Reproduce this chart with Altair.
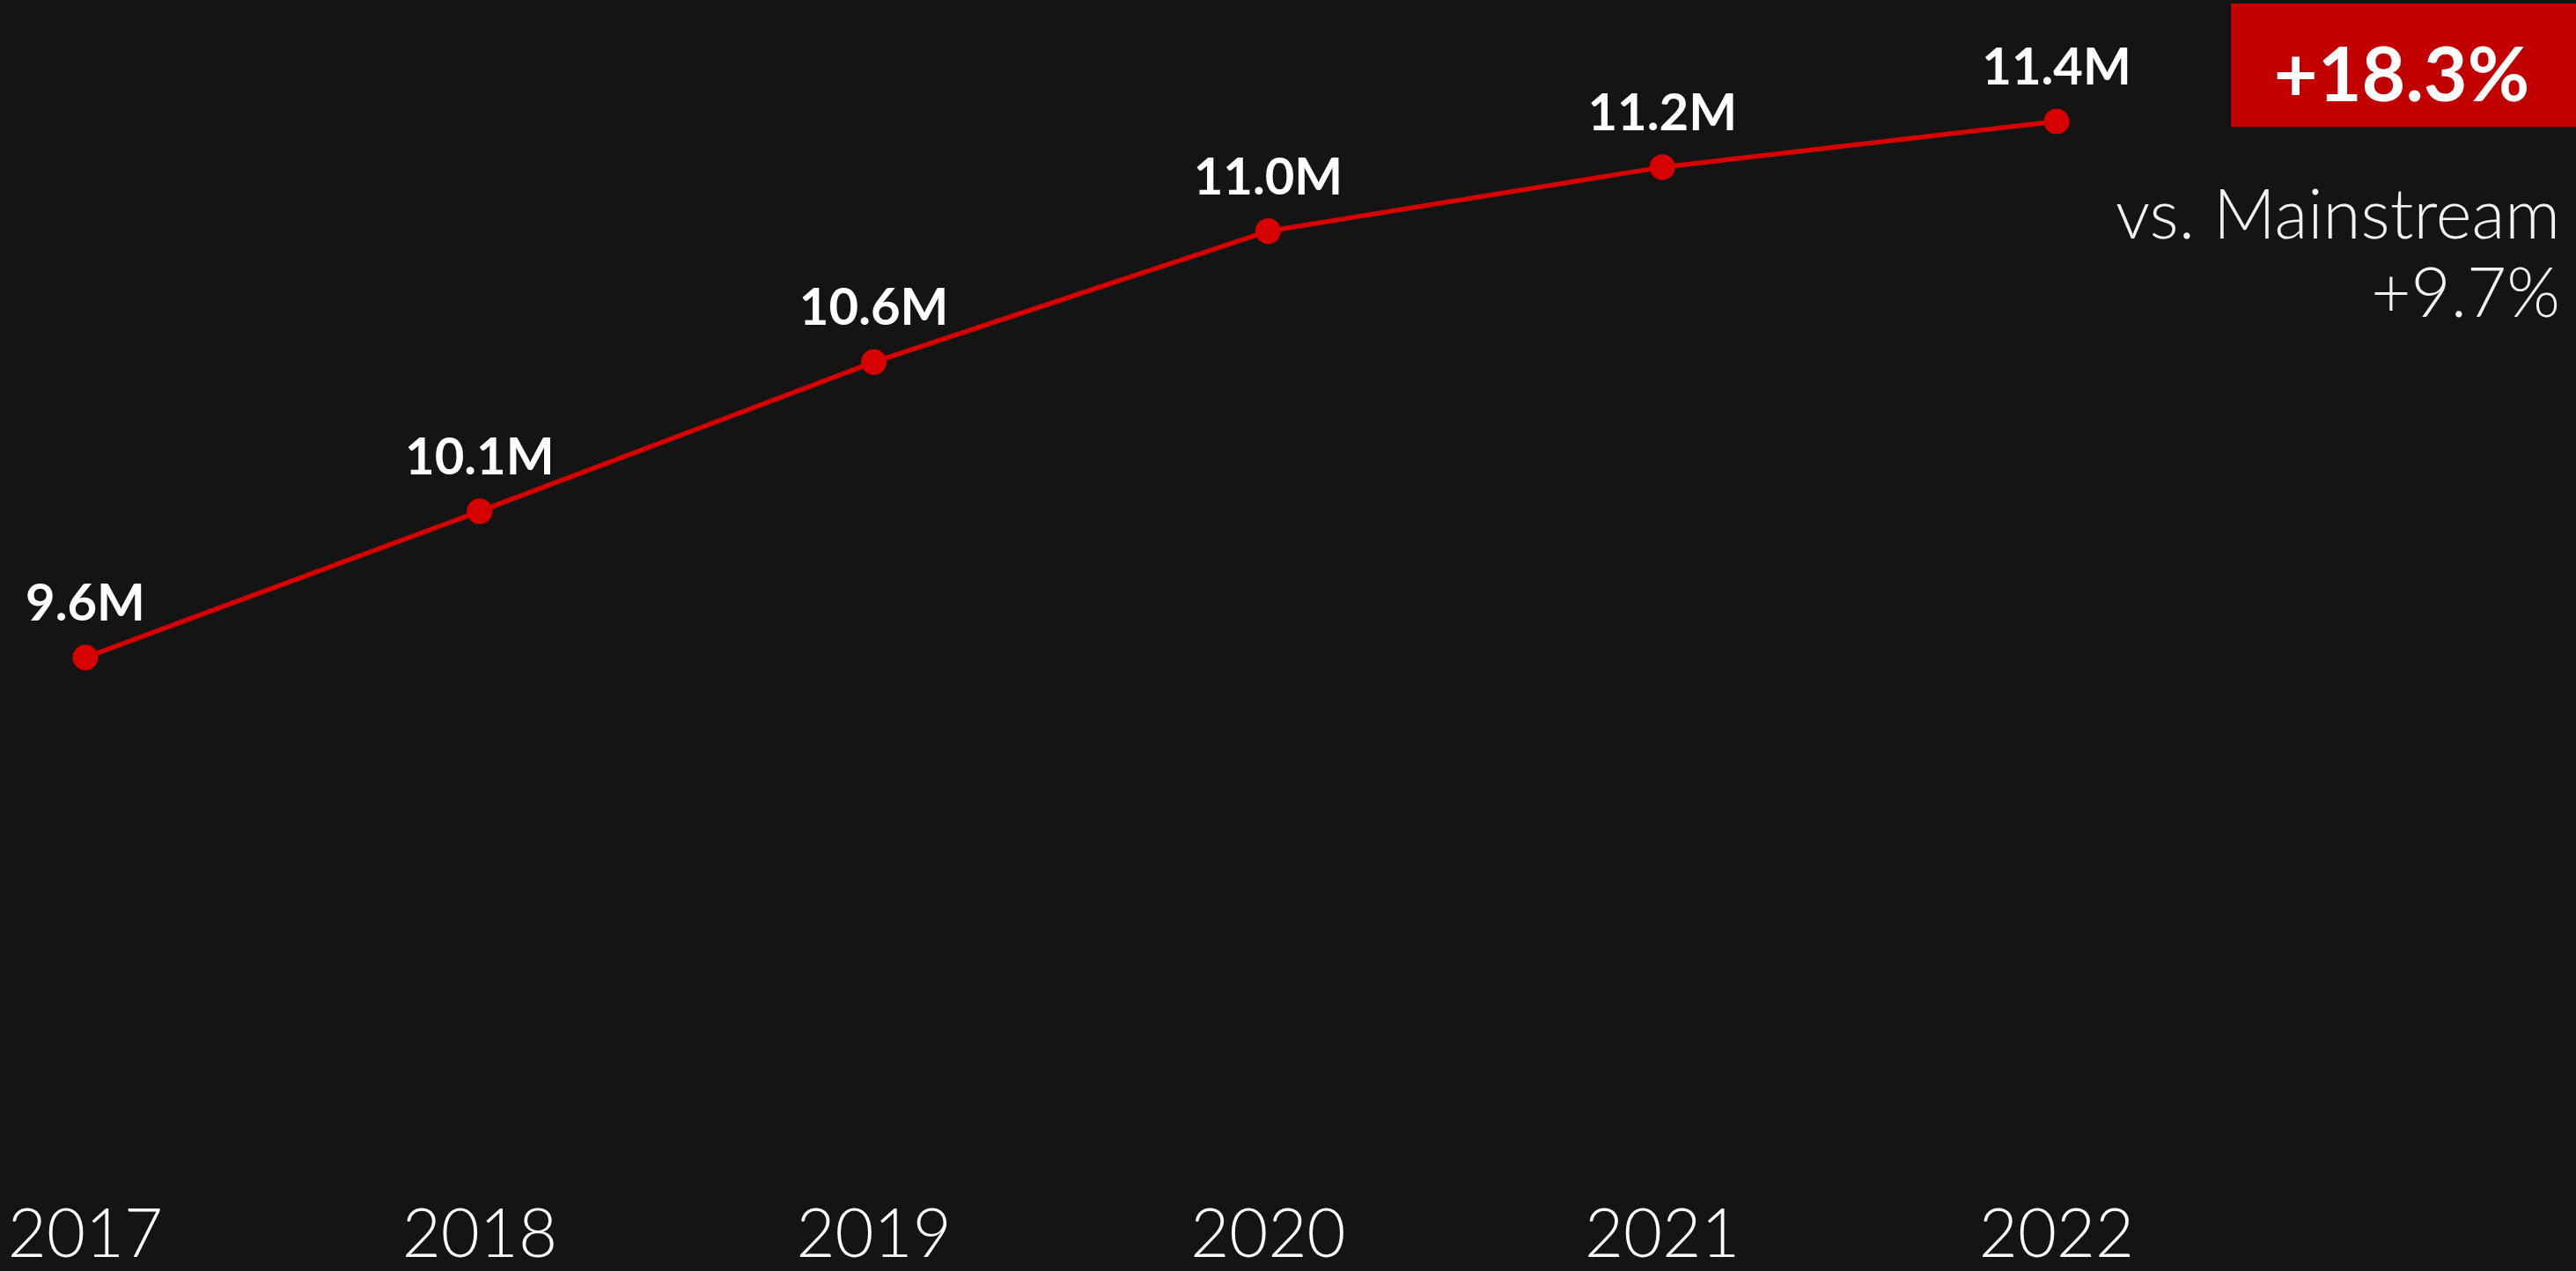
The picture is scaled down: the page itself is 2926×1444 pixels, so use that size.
import altair as alt
import pandas as pd

years = [2017, 2018, 2019, 2020, 2021, 2022]
values = [9.64, 10.12, 10.61, 11.04, 11.25, 11.40]
labels = ["9.6M", "10.1M", "10.6M", "11.0M", "11.2M", "11.4M"]
badge_text = ["+18.3%"]
note_lines = ["vs. Mainstream", "+9.7%"]

df = pd.DataFrame({"year": years, "value": values, "label": labels,
                   "ylab": [str(y) for y in years]})

FONT = "Lato"
RED = "#d60000"

x = alt.X("year:Q", scale=alt.Scale(domain=[2017, 2022], range=[97, 2336]), axis=None)
y = alt.Y("value:Q", scale=alt.Scale(domain=[min(values), max(values)], range=[747, 138], zero=False), axis=None)

base = alt.Chart(df)

line = base.mark_line(color=RED, strokeWidth=5.5).encode(x=x, y=y)
pts = base.mark_point(filled=True, color=RED, size=850, opacity=1).encode(x=x, y=y)
vlabels = base.mark_text(font=FONT, fontWeight="bold", fontSize=58, color="white",
                         baseline="alphabetic", align="center", dy=-42).encode(x=x, y=y, text="label:N")
ylabels = base.mark_text(font=FONT, fontWeight=300, fontSize=76, color="white",
                         baseline="alphabetic", align="center").encode(
    x=x, y=alt.value(1428), text="ylab:N")

badge_df = pd.DataFrame({"t": badge_text})
badge_rect = alt.Chart(badge_df).mark_rect(color="#c20000").encode(
    x=alt.value(2534), x2=alt.value(2926), y=alt.value(4), y2=alt.value(144))
badge_txt = alt.Chart(badge_df).mark_text(font=FONT, fontWeight="bold", fontSize=86, color="white",
                                          align="center", baseline="alphabetic").encode(
    x=alt.value(2728), y=alt.value(115), text="t:N")

note_df = pd.DataFrame({"t": note_lines, "yy": [271, 360]})
note = alt.Chart(note_df).mark_text(font=FONT, fontWeight=300, fontSize=78, color="#f2f2f2",
                                    align="right", baseline="alphabetic").encode(
    x=alt.value(2908), y=alt.Y("yy:Q", scale=None), text="t:N")

chart = alt.layer(line, pts, vlabels, ylabels, badge_rect, badge_txt, note).properties(
    width=2926, height=1444, background="#141414", padding=0,
    autosize=alt.AutoSizeParams(type="none")
).configure_view(stroke=None)

chart.save("out.html", embed_options={"renderer": "svg", "actions": False})
